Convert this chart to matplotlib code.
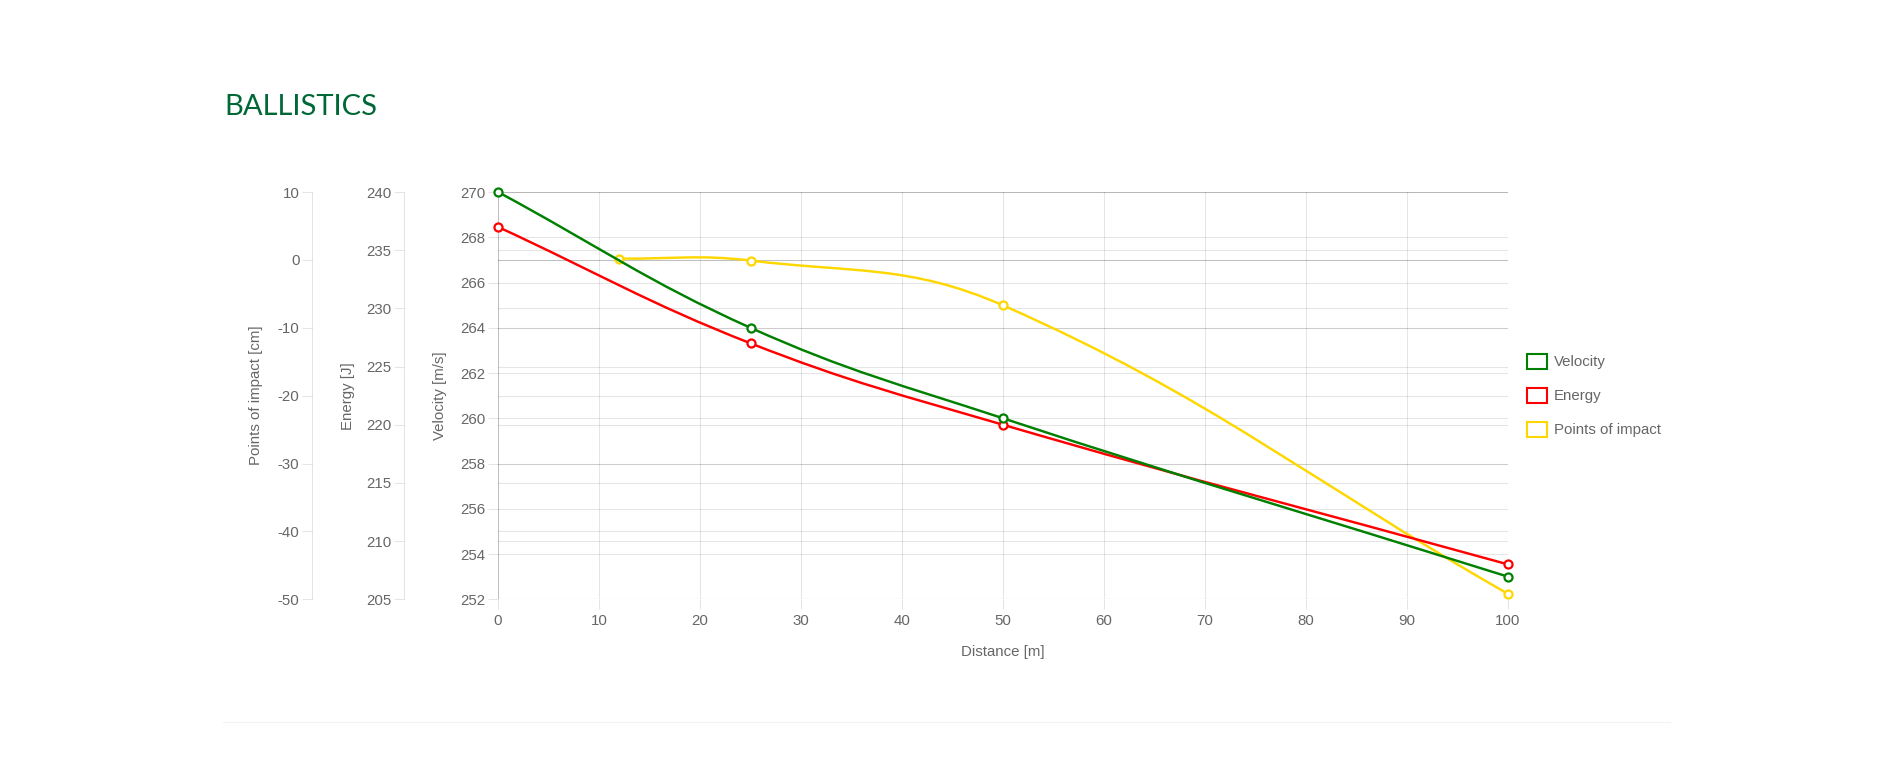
import numpy as np
import matplotlib
matplotlib.use('Agg')
import matplotlib.pyplot as plt
from matplotlib.path import Path
from matplotlib.patches import PathPatch, Rectangle
from matplotlib.lines import Line2D

# data
dist_vel = [0, 25, 50, 100]
velocity = [270, 264, 260, 253]
dist_energy = [0, 25, 50, 100]
energy = [237, 227, 220, 208]
dist_poi = [12, 25, 50, 100]
poi = [0.2, -0.1, -6.7, -49.2]

x_ticks = list(range(0, 101, 10))
vel_ticks = list(range(252, 271, 2))
energy_ticks = list(range(205, 241, 5))
poi_ticks = list(range(-50, 11, 10))

series_names = ['Velocity', 'Energy', 'Points of impact']
series_colors = ['#008000', '#ff0000', '#ffd700']

W, H = 1891, 782
plt.rcParams['font.family'] = ['Liberation Sans', 'DejaVu Sans']
plt.rcParams['axes.unicode_minus'] = False
GREY = '#666666'
FS = 10.8

fig = plt.figure(figsize=(W / 100, H / 100), dpi=100)
fig.patch.set_facecolor('white')

# plot area in pixels
left, right, top, bottom = 498, 1508, 192, 599.3
ax = fig.add_axes([left / W, 1 - bottom / H, (right - left) / W, (bottom - top) / H])
ax_e = ax.twinx()
ax_p = ax.twinx()

ax.set_xlim(0, 100)
ax.set_ylim(252, 270)
ax_e.set_ylim(205, 240)
ax_p.set_ylim(-50, 10)

grid_kw = dict(color='black', lw=0.75, snap=True)

for a in (ax, ax_e, ax_p):
	for s in a.spines.values():
		s.set_visible(False)

# vertical grid
for v in x_ticks:
	ax.axvline(v, alpha=0.25 if v == 0 else 0.1, zorder=0.5, **grid_kw)
# horizontal grids of all three y scales
for v in vel_ticks:
	ax.axhline(v, alpha=0.1, zorder=0.5, **grid_kw)
for v in energy_ticks:
	ax_e.axhline(v, alpha=0.1, zorder=0.5, **grid_kw)
for v in poi_ticks:
	ax_p.axhline(v, alpha=0.25 if v == 0 else 0.1, zorder=0.5, **grid_kw)

tick_col = (0, 0, 0, 0.1)
ax.set_xticks(x_ticks)
ax.set_yticks(vel_ticks)
ax.tick_params(axis='x', length=7.5, width=0.75, color=tick_col, pad=3, labelsize=FS, labelcolor=GREY)
ax.tick_params(axis='y', length=7.5, width=0.75, color=tick_col, pad=1.5, labelsize=FS, labelcolor=GREY)

for a, ticks, offset in ((ax_e, energy_ticks, 94), (ax_p, poi_ticks, 186)):
	a.yaxis.tick_left()
	a.yaxis.set_label_position('left')
	a.set_yticks(ticks)
	a.spines['left'].set_visible(True)
	a.spines['left'].set_position(('outward', offset * 0.72))
	a.spines['left'].set_color(tick_col)
	a.spines['left'].set_linewidth(0.75)
	a.tick_params(axis='y', length=7.5, width=0.75, color=tick_col, pad=1.5, labelsize=FS, labelcolor=GREY)

ax.set_xlabel('Distance [m]', fontsize=FS, color=GREY, va='baseline')
ax.xaxis.set_label_coords(0.5, (bottom - 656) / (bottom - top))
ax.set_ylabel('Velocity [m/s]', fontsize=FS, color=GREY)
ax.yaxis.set_label_coords((447 - left) / (right - left), 0.5)
ax_e.set_ylabel('Energy [J]', fontsize=FS, color=GREY)
ax_e.yaxis.set_label_coords((355 - left) / (right - left), 0.5)
ax_p.set_ylabel('Points of impact [cm]', fontsize=FS, color=GREY)
ax_p.yaxis.set_label_coords((263 - left) / (right - left), 0.5)


def spline(a, xs, ys, tension=0.4):
	# bezier curve like chart.js, computed in pixel space
	pts = a.transData.transform(np.column_stack([xs, ys]))
	bb = a.bbox
	n = len(pts)
	cps = []
	for i in range(n):
		prev = pts[i - 1] if i > 0 else pts[i]
		cur = pts[i]
		nxt = pts[i + 1] if i < n - 1 else pts[i]
		d01 = np.hypot(*(cur - prev))
		d12 = np.hypot(*(nxt - cur))
		tot = d01 + d12
		s01 = d01 / tot if tot else 0
		s12 = d12 / tot if tot else 0
		p = cur - tension * s01 * (nxt - prev)
		q = cur + tension * s12 * (nxt - prev)
		for c in (p, q):
			c[0] = min(max(c[0], bb.x0), bb.x1)
			c[1] = min(max(c[1], bb.y0), bb.y1)
		cps.append((p, q))
	verts = [pts[0]]
	codes = [Path.MOVETO]
	for i in range(n - 1):
		verts += [cps[i][1], cps[i + 1][0], pts[i + 1]]
		codes += [Path.CURVE4] * 3
	verts = a.transData.inverted().transform(np.array(verts))
	return Path(verts, codes)


series = [(ax, dist_vel, velocity), (ax_e, dist_energy, energy), (ax_p, dist_poi, poi)]
for k, (a, xs, ys) in enumerate(series):
	z = 5 - k
	col = series_colors[k]
	patch = PathPatch(spline(a, xs, ys), transform=a.transData, fill=False,
					  edgecolor=col, lw=1.75, zorder=z, capstyle='round', joinstyle='round')
	ax_p.add_patch(patch)
	ax_p.plot(xs, ys, 'o', transform=a.transData, mfc='white', mec=col, ms=5.8, mew=1.6,
			  zorder=z + 0.1, clip_on=False)

ax_p.set_ylim(-50, 10)

# legend
legend_y = [362, 395.7, 429.5]
for name, col, yc in zip(series_names, series_colors, legend_y):
	fig.add_artist(Rectangle((1527 / W, 1 - (yc + 7.5) / H), 20 / W, 15 / H,
							 transform=fig.transFigure, facecolor='white', edgecolor=col, lw=1.5))
	fig.text(1554 / W, 1 - yc / H, name, fontsize=FS, color=GREY, va='center', ha='left')

# title and separator
fig.text(224 / W, 1 - 115 / H, 'BALLISTICS', fontsize=21, color='#006837',
		 family=['Lato', 'DejaVu Sans'], va='baseline', ha='left')
fig.add_artist(Line2D([223 / W, 1670 / W], [1 - 722 / H, 1 - 722 / H],
					  transform=fig.transFigure, color='#f2f2f2', lw=0.75))

fig.savefig('out.png', dpi=100)
